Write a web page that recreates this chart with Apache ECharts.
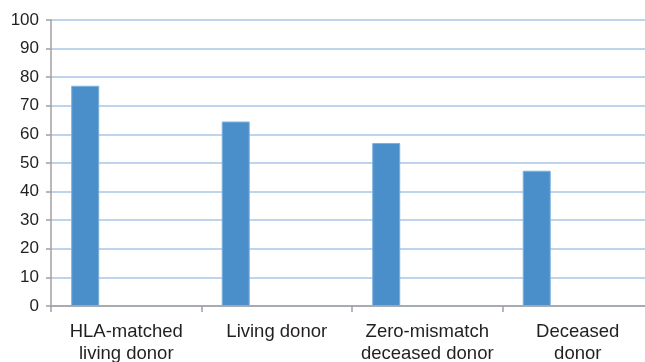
<!DOCTYPE html>
<html>
<head>
<meta charset="utf-8">
<script src="https://cdn.jsdelivr.net/npm/echarts@6/dist/echarts.min.js"></script>
<style>
html,body{margin:0;padding:0;background:#fff;overflow:hidden;}
#wrap{width:645px;height:362px;overflow:hidden;}
#chart{width:653px;height:362px;}
</style>
</head>
<body>
<div id="wrap"><div id="chart"></div></div>
<script>
// Donor categories and their values (percent)
const categories = ['HLA-matched\nliving donor', 'Living donor', 'Zero-mismatch\ndeceased donor', 'Deceased\ndonor'];
const values = [77, 64.5, 57, 47.3];
// Empty companion series that reserves the second slot in each category
const emptySlot = ['-', '-', '-', '-'];
const yTicks = { min: 0, max: 100, interval: 10 };

const chart = echarts.init(document.getElementById('chart'), null, { renderer: 'canvas' });
chart.setOption({
  animation: false,
  grid: { left: 51, right: 0, top: 20, bottom: 56, containLabel: false, outerBoundsMode: 'none' },
  xAxis: {
    type: 'category',
    data: categories,
    axisLine: { lineStyle: { color: '#a0a0a0', width: 1.5 } },
    axisTick: { show: true, length: 6, lineStyle: { color: '#a0a0a0', width: 1.5 } },
    axisLabel: {
      color: '#231f20', fontSize: 18.5, fontFamily: 'Liberation Sans, Arial, sans-serif',
      lineHeight: 22, margin: 15, interval: 0
    }
  },
  yAxis: {
    type: 'value',
    min: yTicks.min, max: yTicks.max, interval: yTicks.interval,
    axisLine: { show: true, lineStyle: { color: '#a0a0a0', width: 1.5 } },
    axisTick: { show: true, length: 5, lineStyle: { color: '#a0a0a0', width: 1.5 } },
    splitLine: { lineStyle: { color: '#a9c4e6', width: 1.5 } },
    axisLabel: {
      color: '#231f20', fontSize: 17, fontFamily: 'Liberation Sans, Arial, sans-serif',
      margin: 12
    }
  },
  series: [
    {
      type: 'bar',
      data: values,
      barWidth: 28,
      barGap: '193%',
      itemStyle: { color: '#4a8fc9', borderColor: '#7eb0dc', borderWidth: 1 }
    },
    {
      type: 'bar',
      data: emptySlot,
      barWidth: 28,
      itemStyle: { color: '#c0504d' }
    }
  ]
});
</script>
</body>
</html>
